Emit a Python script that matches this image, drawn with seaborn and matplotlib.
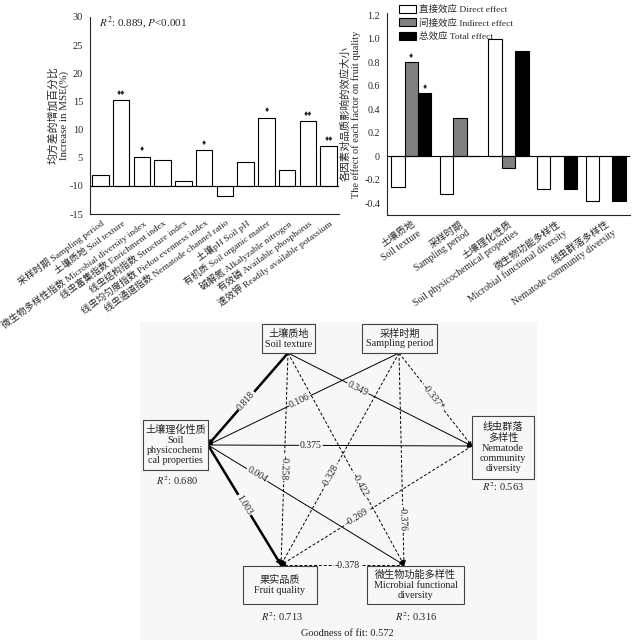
import numpy as np
import pandas as pd
import matplotlib
matplotlib.use('Agg')
import matplotlib.pyplot as plt
import seaborn as sns
from matplotlib.patches import Rectangle, Patch

sns.set_style('white')
plt.rcParams['font.family'] = ['Liberation Serif', 'Noto Sans CJK SC', 'DejaVu Sans']
plt.rcParams['mathtext.fontset'] = 'stix'
plt.rcParams['axes.unicode_minus'] = False

# ---- data: random forest importance (left) ----
imp_labels = ['采样时期 Sampling period', '土壤质地 Soil texture',
              '微生物多样性指数 Microbial diversity index', '线虫富集指数 Enrichment index',
              '线虫结构指数 Structure index', '线虫均匀度指数 Pielou evenness index',
              '线虫通道指数 Nematode channel ratio', '土壤pH Soil pH',
              '有机质 Soil organic matter', '碱解氮 Alkalyzable nitrogen',
              '有效磷 Available phosphorus', '速效钾 Readily available potassium']
imp_values = [2.0, 15.2, 5.2, 4.6, 0.9, 6.4, -1.8, 4.2, 12.1, 2.8, 11.5, 7.1]
imp_sig = ['', '♦♦', '♦', '', '', '♦', '', '', '♦', '', '♦♦', '♦♦']
imp_ytick_labels = ['-15', '-10', '5', '10', '15', '20', '25', '30']

# ---- data: path effects (right) ----
eff_factors = ['土壤质地\nSoil texture', '采样时期\nSampling period',
               '土壤理化性质\nSoil physicochemical properties',
               '微生物功能多样性\nMicrobial functional diversity',
               '线虫群落多样性\nNematode community diversity']
direct_eff = [-0.26, -0.32, 1.00, -0.28, -0.38]
indirect_eff = [0.80, 0.33, -0.10, 0.0, 0.0]
total_eff = [0.54, 0.0, 0.90, -0.28, -0.38]
eff_names = ['直接效应 Direct effect', '间接效应 Indirect effect', '总效应 Total effect']

# ---- data: structural equation model ----
path_from = ['st', 'sp', 'phys', 'phys', 'phys', 'st', 'st', 'st', 'sp', 'sp', 'sp', 'nem', 'mic']
path_to = ['phys', 'phys', 'fq', 'nem', 'mic', 'nem', 'fq', 'mic', 'fq', 'nem', 'mic', 'fq', 'fq']
path_coef = ['0.818', '0.106', '1.003', '0.375', '0.004', '0.349', '-0.258', '-0.422',
             '-0.328', '-0.337*', '-0.376', '-0.269', '-0.378']
r2_nodes = ['phys', 'fq', 'nem', 'mic']
r2_values = [0.680, 0.713, 0.563, 0.316]
goodness = 0.572

fig = plt.figure(figsize=(6.33, 6.4), dpi=100)
W, H = 633, 640

# ================= left bar chart =================
ax1 = fig.add_axes([90 / W, 1 - 214 / H, 249 / W, 197 / H])
sns.barplot(x=list(range(len(imp_values))), y=imp_values, color='white', edgecolor='black',
            linewidth=0.8, width=0.8, ax=ax1)
ax1.set_xlim(-0.5, 11.5)
ax1.set_ylim(-5, 30)
ax1.axhline(0, color='black', lw=0.8)
ax1.set_yticks(np.arange(-5, 31, 5))
ax1.set_yticklabels(imp_ytick_labels, fontsize=7.5)
ax1.set_xticks(range(len(imp_labels)))
ax1.set_xticklabels(imp_labels, rotation=36, ha='right', rotation_mode='anchor', fontsize=6.8)
ax1.tick_params(axis='x', direction='in', length=4, width=0.8, pad=3)
ax1.tick_params(axis='y', direction='out', length=3, width=0.8, pad=2)
for i, (v, s) in enumerate(zip(imp_values, imp_sig)):
    if s:
        ax1.text(i, v + 0.6, s, ha='center', va='bottom', fontsize=6)
ax1.text(0.036, 0.97, r'$R^2$: 0.889, $P$<0.001', transform=ax1.transAxes,
         ha='left', va='center', fontsize=8)
ax1.set_ylabel('均方差的增加百分比\nIncrease in MSE(%)', fontsize=7.8, linespacing=1.15)
ax1.yaxis.set_label_coords(-0.085, 0.5)
sns.despine(ax=ax1)
for sp in ax1.spines.values():
    sp.set_linewidth(0.8)

# ================= right bar chart =================
ax2 = fig.add_axes([387 / W, 1 - 215 / H, 243 / W, 202 / H])
eff_df = pd.DataFrame({
    'factor': eff_factors * 3,
    'effect': [eff_names[0]] * 5 + [eff_names[1]] * 5 + [eff_names[2]] * 5,
    'value': direct_eff + indirect_eff + total_eff,
})
eff_colors = {eff_names[0]: 'white', eff_names[1]: '#808080', eff_names[2]: 'black'}
sns.barplot(data=eff_df, x='factor', y='value', hue='effect', palette=eff_colors,
            edgecolor='black', linewidth=0.8, width=0.83, legend=False, ax=ax2)
ax2.set_xlim(-0.5, 4.5)
ax2.set_ylim(-0.5, 1.22)
ax2.axhline(0, color='black', lw=0.8)
ax2.set_yticks([-0.4, -0.2, 0, 0.2, 0.4, 0.6, 0.8, 1.0, 1.2])
ax2.set_yticklabels(['-0.4', '-0.2', '0', '0.2', '0.4', '0.6', '0.8', '1.0', '1.2'], fontsize=7.2)
ax2.set_xticks(range(5))
ax2.set_xticklabels(eff_factors, rotation=35, ha='right', rotation_mode='anchor',
                    fontsize=7, multialignment='right', linespacing=1.3)
ax2.tick_params(axis='x', direction='in', length=4, width=0.8, pad=3)
ax2.tick_params(axis='y', direction='out', length=3, width=0.8, pad=2)
ax2.set_xlabel('')
ax2.set_ylabel('各因素对品质影响的效应大小\nThe effect of each factor on fruit quality',
               fontsize=7.5, linespacing=1.1)
ax2.yaxis.set_label_coords(-0.105, 0.5)
ax2.text(0, 0.80 + 0.02, '♦', ha='center', va='bottom', fontsize=6)
ax2.text(0.277, 0.54 + 0.02, '♦', ha='center', va='bottom', fontsize=6)
handles = [Patch(facecolor=eff_colors[n], edgecolor='black', linewidth=0.8) for n in eff_names]
ax2.legend(handles, eff_names, loc='upper left', bbox_to_anchor=(394 / W, 1.0),
           bbox_transform=fig.transFigure, frameon=False, fontsize=6.8,
           handlelength=1.8, handleheight=0.9, labelspacing=0.45, handletextpad=0.3,
           borderaxespad=0.1)
sns.despine(ax=ax2)
for sp in ax2.spines.values():
    sp.set_linewidth(0.8)

# ================= path diagram =================
bg = '#f7f7f7'
ax3 = fig.add_axes([140 / W, 0, 397 / W, 318 / H])
ax3.set_xlim(140, 537)
ax3.set_ylim(640, 322)
ax3.set_facecolor(bg)
ax3.set_xticks([])
ax3.set_yticks([])
for sp in ax3.spines.values():
    sp.set_visible(False)

boxes = {
    'st': (262, 324, 315, 353, '土壤质地\nSoil texture'),
    'sp': (362, 324, 437, 353, '采样时期\nSampling period'),
    'phys': (143, 420, 208, 470, '土壤理化性质\nSoil\nphysicochemi\ncal properties'),
    'nem': (472, 416, 534, 479, '线虫群落\n多样性\nNematode\ncommunity\ndiversity'),
    'fq': (243, 566, 317, 604, '果实品质\nFruit quality'),
    'mic': (367, 566, 464, 604, '微生物功能多样性\nMicrobial functional\ndiversity'),
}
out_pt = {'st': (288, 353), 'sp': (399, 353), 'phys': (208, 445),
          'nem': (472, 446), 'fq': (281, 565), 'mic': (404, 565)}
in_pt = {'phys': (208, 445), 'nem': (472, 446), 'fq': (281, 565), 'mic': (404, 565)}
label_t = [0.52, 0.52, 0.5, 0.39, 0.25, 0.38, 0.54, 0.62, 0.58, 0.47, 0.78, 0.6, 0.46]
thick = {'0.818', '1.003'}

for k, (x0, y0, x1, y1, txt) in boxes.items():
    ax3.add_patch(Rectangle((x0, y0), x1 - x0, y1 - y0, facecolor=bg, edgecolor='#444444',
                            lw=0.8, zorder=3))
    ax3.text((x0 + x1) / 2, (y0 + y1) / 2, txt, ha='center', va='center', fontsize=7.3,
             linespacing=1.12, zorder=4, color='#222222')

for f, t, c, lt in zip(path_from, path_to, path_coef, label_t):
    (xa, ya), (xb, yb) = out_pt[f], in_pt[t]
    neg = c.startswith('-')
    lw = 1.8 if c in thick else 0.7
    ax3.plot([xa, xb], [ya, yb], color='black', lw=lw,
             ls=(0, (3, 2)) if neg else '-', zorder=1)
    d = np.hypot(xb - xa, yb - ya)
    ux, uy = (xb - xa) / d, (yb - ya) / d
    ax3.annotate('', xy=(xb, yb), xytext=(xb - ux * 5, yb - uy * 5),
                 arrowprops=dict(arrowstyle='-|>', color='black', lw=0.6,
                                 mutation_scale=6 if c not in thick else 8,
                                 shrinkA=0, shrinkB=0), zorder=2)
    ang = np.degrees(np.arctan2(-(yb - ya), xb - xa))
    if ang > 85:
        ang -= 180
    elif ang <= -95:
        ang += 180
    ax3.text(xa + (xb - xa) * lt, ya + (yb - ya) * lt, c, rotation=ang, rotation_mode='anchor',
             ha='center', va='center', fontsize=7, zorder=2, color='#222222',
             bbox=dict(facecolor=bg, edgecolor='none', pad=0.6))

r2_pos = {'phys': (177, 481), 'fq': (282, 617), 'nem': (503, 487), 'mic': (416, 617)}
for n, v in zip(r2_nodes, r2_values):
    ax3.text(*r2_pos[n], rf'$R^2$: {v:.3f}', ha='center', va='center', fontsize=7.5, color='#222222')
ax3.text(347, 633, f'Goodness of fit: {goodness:.3f}', ha='center', va='center',
         fontsize=7.5, color='#222222')

fig.savefig('out.png', dpi=100, facecolor='white')
